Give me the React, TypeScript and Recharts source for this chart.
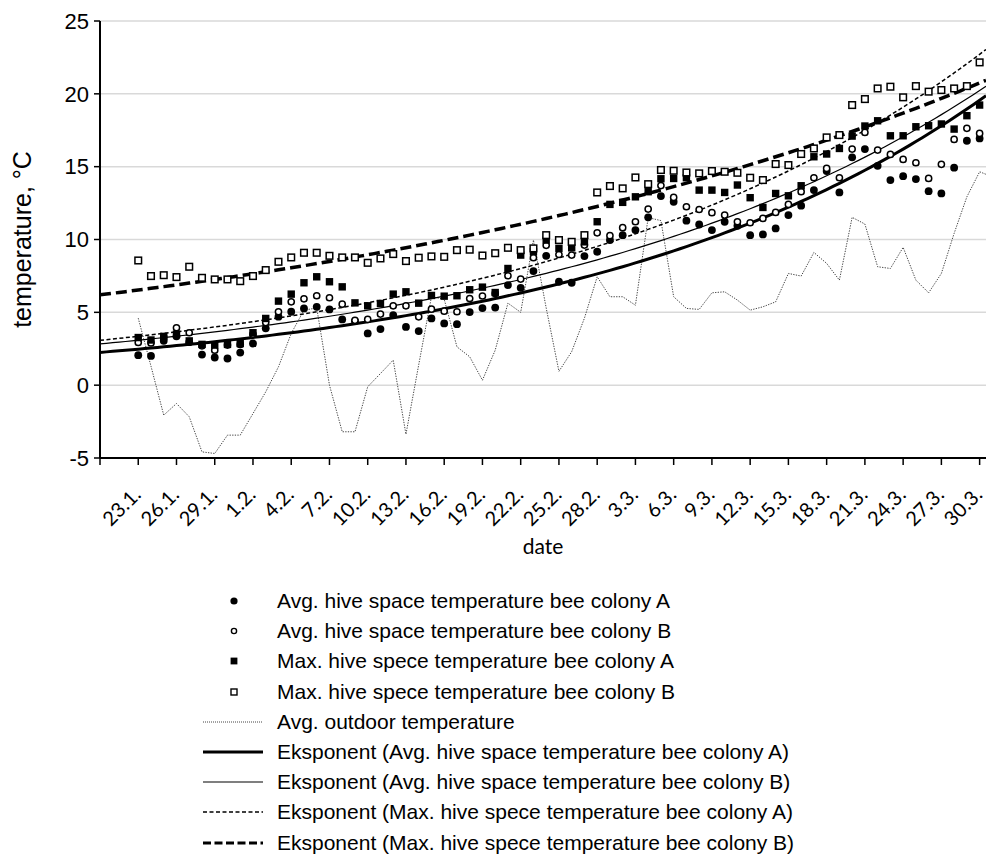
import React from "react";
import {
  ComposedChart,
  Line,
  Scatter,
  XAxis,
  YAxis,
  CartesianGrid,
  Legend,
} from "recharts";

// day 0 = 23.1., one value per day
const avgHiveA = [
  2.06, 2.01, 3.05, 3.35, 2.95, 2.1, 1.9, 1.83, 2.24, 2.86, 3.9, 4.7, 5.04, 5.27, 5.38, 5.2, 4.51, 4.4, 3.55,
  3.85, 4.81, 4.0, 3.71, 4.58, 4.24, 4.19, 5.02, 5.29, 5.33, 6.87, 6.68, 7.83, 8.88, 7.1, 7.03, 8.86, 9.16,
  9.96, 10.3, 10.65, 11.52, 12.98, 12.59, 11.29, 11.03, 10.65, 11.22, 10.94, 10.3, 10.35, 10.76, 11.68, 12.32,
  13.39, 14.7, 13.23, 15.64, 16.21, 15.06, 14.08, 14.35, 14.15, 13.32, 13.16, 14.93, 16.78, 16.94,
];

const avgHiveB = [
  2.93, 2.9, 3.3, 3.94, 3.6, 2.7, 2.4, 2.75, 2.8, 3.5, 4.3, 5.04, 5.72, 5.93, 6.14, 6.0, 5.56, 4.45, 4.51,
  4.88, 5.45, 5.45, 4.69, 5.22, 5.08, 5.04, 5.95, 6.12, 6.3, 7.51, 7.28, 8.75, 9.6, 8.97, 8.93, 9.62, 10.46,
  10.26, 10.81, 11.22, 12.09, 13.7, 12.89, 12.25, 12.06, 11.84, 11.68, 11.22, 11.15, 11.45, 11.86, 12.41,
  13.28, 14.24, 14.88, 14.24, 16.21, 17.35, 16.14, 15.84, 15.5, 15.27, 14.19, 15.16, 16.87, 17.63, 17.28,
];

const maxHiveA = [
  3.27, 3.1, 3.35, 3.5, 3.04, 2.8, 2.75, 2.8, 2.86, 3.6, 4.58, 5.77, 6.25, 7.03, 7.44, 7.1, 6.75, 5.65, 5.45,
  5.61, 6.25, 6.41, 5.63, 6.16, 6.11, 6.14, 6.55, 6.73, 6.36, 8.01, 8.93, 9.16, 9.96, 9.39, 9.43, 9.84, 11.22,
  12.41, 12.55, 12.93, 13.28, 14.17, 14.19, 14.24, 13.39, 13.39, 13.23, 13.74, 12.87, 12.2, 13.16, 13.0,
  13.69, 15.68, 15.87, 16.25, 17.1, 17.79, 18.15, 17.12, 17.12, 17.74, 17.81, 17.93, 17.58, 18.5, 19.23,
];

const maxHiveB = [
  8.56, 7.49, 7.55, 7.42, 8.13, 7.37, 7.26, 7.26, 7.14, 7.49, 7.9, 8.47, 8.77, 9.09, 9.09, 8.88, 8.77, 8.77,
  8.4, 8.7, 9.0, 8.52, 8.75, 8.84, 8.81, 9.27, 9.3, 8.9, 9.06, 9.43, 9.27, 9.39, 10.3, 9.96, 9.84, 10.3, 13.23,
  13.67, 13.51, 14.26, 13.8, 14.77, 14.72, 14.6, 14.54, 14.7, 14.65, 14.58, 14.24, 14.08, 15.18, 15.11, 15.87,
  16.25, 17.01, 17.17, 19.23, 19.64, 20.37, 20.49, 19.76, 20.53, 20.15, 20.26, 20.37, 20.53, 22.16,
];

const outdoor = [
  4.6, 1.3, -2.06, -1.26, -2.17, -4.58, -4.69, -3.43, -3.43, -1.95, -0.46, 1.26, 3.55, 5.15, 5.3, 0.0, -3.2,
  -3.2, -0.11, 0.8, 1.72, -3.37, 1.4, 6.07, 5.9, 2.63, 1.95, 0.34, 2.4, 5.63, 5.0, 9.96, 5.3, 0.95, 2.3, 4.6,
  7.44, 6.07, 6.07, 5.49, 11.5, 11.3, 6.07, 5.27, 5.2, 6.34, 6.41, 5.84, 5.15, 5.38, 5.72, 7.67, 7.49, 9.11,
  8.36, 7.21, 11.52, 11.06, 8.13, 8.01, 9.46, 7.21, 6.34, 7.67, 10.42, 12.93, 14.65, 14.3,
];

const dayTicks = [0, 3, 6, 9, 12, 15, 18, 21, 24, 27, 30, 33, 36, 39, 42, 45, 48, 51, 54, 57, 60, 63, 66];
const dateLabels = [
  "23.1.", "26.1.", "29.1.", "1.2.", "4.2.", "7.2.", "10.2.", "13.2.", "16.2.", "19.2.", "22.2.", "25.2.",
  "28.2.", "3.3.", "6.3.", "9.3.", "12.3.", "15.3.", "18.3.", "21.3.", "24.3.", "27.3.", "30.3.",
];
const tempTicks = [-5, 0, 5, 10, 15, 20, 25];

const seriesNames = [
  "Avg. hive space temperature bee colony A",
  "Avg. hive space temperature bee colony B",
  "Max. hive spece temperature bee colony A",
  "Max. hive spece temperature bee colony B",
  "Avg. outdoor temperature",
];

const DAY_MIN = -3;
const DAY_MAX = 66.5;

type Pt = { day: number; v: number };
const toPts = (vals: number[]): Pt[] => vals.map((v, i) => ({ day: i, v }));

// exponential least-squares trend (fit on ln y), drawn over the full axis
function expTrend(vals: number[]): Pt[] {
  const n = vals.length;
  let sx = 0, sy = 0, sxx = 0, sxy = 0;
  vals.forEach((v, i) => {
    const ly = Math.log(v);
    sx += i;
    sy += ly;
    sxx += i * i;
    sxy += i * ly;
  });
  const b = (n * sxy - sx * sy) / (n * sxx - sx * sx);
  const a = Math.exp((sy - b * sx) / n);
  const out: Pt[] = [];
  for (let d = DAY_MIN; d <= DAY_MAX + 0.01; d += 0.5) out.push({ day: d, v: a * Math.exp(b * d) });
  return out;
}

const FONT = '"Liberation Sans", Arial, sans-serif';
const TICK_FONT = 'Lato, "Open Sans", sans-serif';

const dot = (p: any) => <circle cx={p.cx} cy={p.cy} r={3.9} fill="#000" />;
const ring = (p: any) => <circle cx={p.cx} cy={p.cy} r={3.1} fill="#fff" stroke="#000" strokeWidth={1.5} />;
const block = (p: any) => <rect x={p.cx - 3.7} y={p.cy - 3.7} width={7.4} height={7.4} fill="#000" />;
const box = (p: any) => (
  <rect x={p.cx - 3.3} y={p.cy - 3.3} width={6.6} height={6.6} fill="#fff" stroke="#000" strokeWidth={1.5} />
);

const XTick = (props: any) => {
  const { x, y, payload } = props;
  const i = dayTicks.indexOf(payload.value);
  if (i < 0) return null;
  return (
    <g transform={`translate(${x - 1},${y + 24})`}>
      <text transform="rotate(-45)" textAnchor="end" dy="0.35em" fontSize={20} fontFamily={TICK_FONT} fill="#000">
        {dateLabels[i]}
      </text>
    </g>
  );
};

const legendRows = [
  { kind: "dot", label: seriesNames[0] },
  { kind: "ring", label: seriesNames[1] },
  { kind: "block", label: seriesNames[2] },
  { kind: "box", label: seriesNames[3] },
  { kind: "dotted", label: seriesNames[4] },
  { kind: "thick", label: `Eksponent (${seriesNames[0]})` },
  { kind: "thin", label: `Eksponent (${seriesNames[1]})` },
  { kind: "dash", label: `Eksponent (${seriesNames[2]})` },
  { kind: "bigdash", label: `Eksponent (${seriesNames[3]})` },
];

function LegendIcon({ kind }: { kind: string }) {
  const c = 31;
  const m = 15;
  let el: React.ReactNode = null;
  if (kind === "dot") el = <circle cx={c} cy={m} r={3.6} fill="#000" />;
  if (kind === "ring") el = <circle cx={c} cy={m} r={2.6} fill="#fff" stroke="#000" strokeWidth={1.4} />;
  if (kind === "block") el = <rect x={c - 3.4} y={m - 3.4} width={6.8} height={6.8} fill="#000" />;
  if (kind === "box") el = <rect x={c - 3} y={m - 3} width={6} height={6} fill="#fff" stroke="#000" strokeWidth={1.4} />;
  if (kind === "dotted") el = <line x1={0} x2={60} y1={m} y2={m} stroke="#444" strokeWidth={1} strokeDasharray="1 1" />;
  if (kind === "thick") el = <line x1={0} x2={60} y1={m} y2={m} stroke="#000" strokeWidth={3} />;
  if (kind === "thin") el = <line x1={0} x2={60} y1={m} y2={m} stroke="#000" strokeWidth={1.2} />;
  if (kind === "dash") el = <line x1={0} x2={60} y1={m} y2={m} stroke="#000" strokeWidth={1.4} strokeDasharray="4 2.5" />;
  if (kind === "bigdash") el = <line x1={0} x2={60} y1={m} y2={m} stroke="#000" strokeWidth={3.2} strokeDasharray="8 3.5" />;
  return (
    <svg width={62} height={30} style={{ display: "block", flex: "none" }}>
      {el}
    </svg>
  );
}

const renderLegend = () => (
  <div style={{ fontFamily: FONT, fontSize: 21, color: "#000" }}>
    {legendRows.map((r) => (
      <div key={r.label} style={{ display: "flex", alignItems: "center", height: 30.2 }}>
        <LegendIcon kind={r.kind} />
        <span style={{ marginLeft: 12, whiteSpace: "nowrap" }}>{r.label}</span>
      </div>
    ))}
  </div>
);

export default function App() {
  const trendAvgA = expTrend(avgHiveA);
  const trendAvgB = expTrend(avgHiveB);
  const trendMaxA = expTrend(maxHiveA);
  const trendMaxB = expTrend(maxHiveB);

  return (
    <div style={{ position: "absolute", left: 0, top: 0, width: 986, height: 856, background: "#fff" }}>
      <ComposedChart width={986} height={856} margin={{ top: 21, right: 0, bottom: 298, left: 0 }}>
        <CartesianGrid vertical={false} stroke="#d9d9d9" strokeWidth={1.5} />
        <XAxis
          type="number"
          dataKey="day"
          domain={[DAY_MIN, DAY_MAX]}
          ticks={[DAY_MIN, ...dayTicks]}
          interval={0}
          allowDataOverflow
          height={100}
          tickSize={7}
          axisLine={{ stroke: "#000", strokeWidth: 2 }}
          tickLine={{ stroke: "#000", strokeWidth: 1.5 }}
          tick={<XTick />}
          label={{
            value: "date",
            position: "insideBottom",
            offset: 4,
            fontSize: 21,
            fontFamily: TICK_FONT,
            fill: "#000",
          }}
        />
        <YAxis
          type="number"
          dataKey="v"
          domain={[-5, 25]}
          ticks={tempTicks}
          interval={0}
          width={100}
          tickSize={6}
          tickMargin={5}
          axisLine={{ stroke: "#000", strokeWidth: 2 }}
          tickLine={{ stroke: "#000", strokeWidth: 1.5 }}
          tick={{ fontSize: 22, fontFamily: FONT, fill: "#000" }}
          label={{
            value: "temperature, °C",
            angle: -90,
            position: "center",
            dx: -28,
            fontSize: 25,
            fontFamily: FONT,
            fill: "#000",
          }}
        />
        <Legend
          content={renderLegend}
          layout="horizontal"
          verticalAlign="middle"
          align="center"
          wrapperStyle={{ left: 203, top: 586, width: 700 }}
        />
        <Line
          data={toPts(outdoor)}
          dataKey="v"
          stroke="#444"
          strokeWidth={1}
          strokeDasharray="1.3 1.3"
          dot={false}
          isAnimationActive={false}
        />
        <Scatter data={toPts(avgHiveA)} dataKey="v" shape={dot} isAnimationActive={false} />
        <Scatter data={toPts(avgHiveB)} dataKey="v" shape={ring} isAnimationActive={false} />
        <Scatter data={toPts(maxHiveA)} dataKey="v" shape={block} isAnimationActive={false} />
        <Scatter data={toPts(maxHiveB)} dataKey="v" shape={box} isAnimationActive={false} />
        <Line data={trendAvgA} dataKey="v" stroke="#000" strokeWidth={3} dot={false} isAnimationActive={false} />
        <Line data={trendAvgB} dataKey="v" stroke="#000" strokeWidth={1.2} dot={false} isAnimationActive={false} />
        <Line
          data={trendMaxA}
          dataKey="v"
          stroke="#000"
          strokeWidth={1.5}
          strokeDasharray="4 2.5"
          dot={false}
          isAnimationActive={false}
        />
        <Line
          data={trendMaxB}
          dataKey="v"
          stroke="#000"
          strokeWidth={3.5}
          strokeDasharray="11 5"
          dot={false}
          isAnimationActive={false}
        />
      </ComposedChart>
    </div>
  );
}
